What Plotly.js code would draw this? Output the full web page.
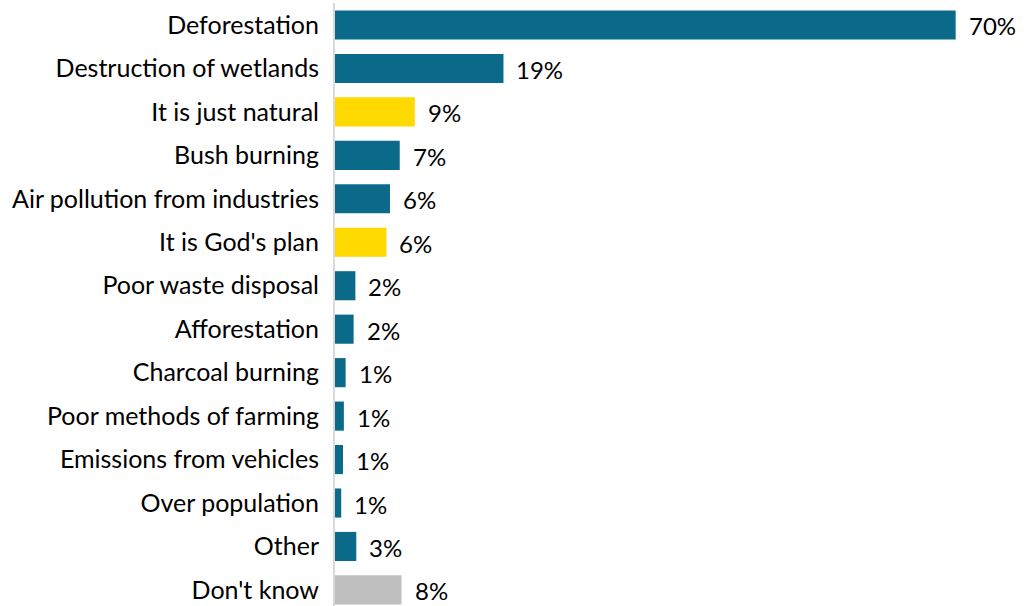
<!DOCTYPE html>
<html>
<head>
<meta charset="utf-8">
<script src="https://cdn.plot.ly/plotly-3.0.1.min.js"></script>
<style>html,body{margin:0;padding:0;background:#fff;}#chart{width:1025px;height:606px;}</style>
</head>
<body>
<div id="chart"></div>
<script>
var categories = ["Deforestation","Destruction of wetlands","It is just natural","Bush burning","Air pollution from industries","It is God's plan","Poor waste disposal","Afforestation","Charcoal burning","Poor methods of farming","Emissions from vehicles","Over population","Other","Don't know"];
var values = [70, 19, 9, 7.3, 6.2, 5.8, 2.3, 2.1, 1.2, 1.0, 0.9, 0.7, 2.4, 7.5];
var labels = ["70%","19%","9%","7%","6%","6%","2%","2%","1%","1%","1%","1%","3%","8%"];
var groups = ["cause","cause","fate","cause","cause","fate","cause","cause","cause","cause","cause","cause","cause","unknown"];
var groupColors = {cause:"#0b6a8a", fate:"#ffd900", unknown:"#bfbfbf"};
var FONT = "Lato, 'Open Sans', sans-serif";

var trace = {
  type: "bar",
  orientation: "h",
  x: values,
  y: categories,
  marker: {color: groups.map(function(g){return groupColors[g];})},
  hoverinfo: "none"
};
var annotations = categories.map(function(c, i){
  return {x: values[i], y: c, text: labels[i], showarrow: false, xanchor: "left", yanchor: "middle",
          xshift: 12, yshift: -1, borderpad: 0, font: {family: FONT, size: 24, color: "#000"}};
});
var layout = {
  width: 1025, height: 606,
  margin: {l: 335, r: 25, t: 3, b: 0},
  paper_bgcolor: "#fff", plot_bgcolor: "#fff",
  showlegend: false,
  bargap: 0.33,
  font: {family: FONT, size: 25, color: "#000"},
  xaxis: {range: [0, 75], showgrid: false, zeroline: false, showticklabels: false, showline: false, ticks: ""},
  yaxis: {type: "category", range: [13.37, -0.506], showgrid: false, zeroline: false,
          showline: true, linecolor: "#d9d9d9", linewidth: 2, ticks: "outside", ticklen: 9, tickcolor: "rgba(0,0,0,0)",
          tickfont: {family: FONT, size: 25, color: "#000"}},
  annotations: annotations
};
Plotly.newPlot("chart", [trace], layout, {staticPlot: true, displayModeBar: false});
</script>
</body>
</html>
